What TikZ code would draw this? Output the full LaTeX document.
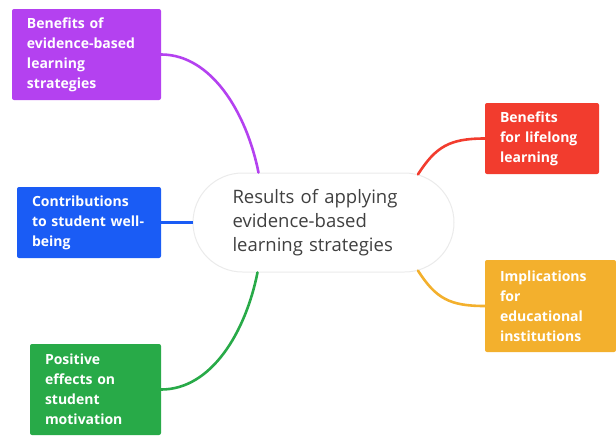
\documentclass[tikz,border=0pt]{standalone}
\usepackage{fontspec}
\setmainfont{Open Sans}
\usetikzlibrary{shapes.misc}
\definecolor{purpleb}{HTML}{B441F0}
\definecolor{blueb}{HTML}{1A5CF5}
\definecolor{greenb}{HTML}{28AA48}
\definecolor{redb}{HTML}{F23C2E}
\definecolor{yellowb}{HTML}{F3B02D}
\definecolor{textc}{HTML}{404040}
\tikzset{
  topicbox/.style={rectangle, rounded corners=2pt, text=white, align=left,
    inner xsep=15pt, inner ysep=0pt,
    font=\bfseries\fontsize{14}{20}\selectfont},
  centerbox/.style={rounded rectangle, draw=black!8, line width=1pt, fill=white,
    text=textc, align=left, text width=182pt, minimum width=261pt,
    minimum height=99pt, inner xsep=0pt,
    font=\fontsize{18.5}{24}\selectfont},
  branch/.style={line width=2.6pt, line cap=round}
}
\begin{document}
\begin{tikzpicture}[x=1pt,y=-1pt]
\useasboundingbox (0,0) rectangle (616,437);
\coordinate (C) at (323.5,222.5);
\coordinate (P) at (86.5,54.5);
\coordinate (B) at (89,222.5);
\coordinate (G) at (95.5,389.5);
\coordinate (R) at (542,138.5);
\coordinate (Y) at (550.5,306);

\node[centerbox] (ctr) at (C) {Results of applying\\evidence-based\\learning strategies};
\node[topicbox, fill=purpleb, text width=119pt, minimum height=91pt] (ben) at (P) {Benefits of\\evidence-based\\learning\\strategies};
\node[topicbox, fill=blueb, text width=114pt, minimum height=71pt] (con) at (B) {Contributions\\to student well-\\being};
\node[topicbox, fill=greenb, text width=101pt, minimum height=91pt] (pos) at (G) {Positive\\effects on\\student\\motivation};
\node[topicbox, fill=redb, text width=84pt, minimum height=71pt] (life) at (R) {Benefits\\for lifelong\\learning};
\node[topicbox, fill=yellowb, text width=101pt, minimum height=92pt] (impl) at (Y) {Implications\\for\\educational\\institutions};

\draw[branch, purpleb] (ben.east) .. controls +(50,0) and +(-12,-60) .. ([xshift=-65pt]ctr.north);
\draw[branch, blueb, line width=3pt, line cap=butt] (con.east) -- (ctr.west);
\draw[branch, greenb] ([xshift=-66pt]ctr.south) .. controls +(-12,60) and +(50,0) .. (pos.east);
\draw[branch, redb] (ctr.27) .. controls +(18,-28) and +(-35,0) .. (life.west);
\draw[branch, yellowb] (ctr.-27) .. controls +(18,28) and +(-35,0) .. (impl.west);
\end{tikzpicture}
\end{document}
